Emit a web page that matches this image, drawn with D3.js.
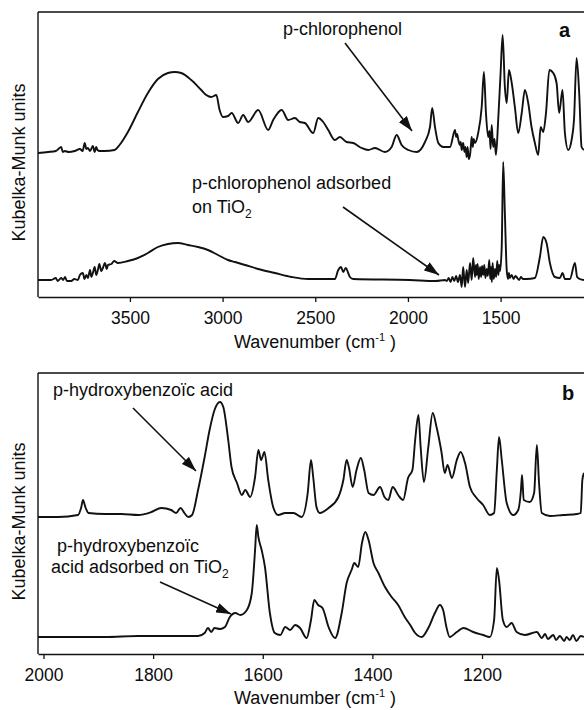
<!DOCTYPE html>
<html>
<head>
<meta charset="utf-8">
<script src="https://cdn.jsdelivr.net/npm/d3@7"></script>
<style>
  html, body { margin: 0; padding: 0; background: #fff; }
  svg text { font-family: "Liberation Sans", Arial, Helvetica, sans-serif; fill: #0d0d0d; }
</style>
</head>
<body>
<svg id="chart" width="584" height="710"></svg>
<script>
// ---------- DATA ----------
// Panel a: wavenumber (cm-1), Kubelka-Munk intensity (arbitrary units)
const aTicks = [3500, 3000, 2500, 2000, 1500];
const aChloroWn = [3996,3942,3900,3880,3871,3862,3852,3830,3798,3770,3755,3744,3735,3727,3715,3700,3690,3682,3675,3663,3637,3583,3556,3511,3457,3403,3349,3295,3259,3223,3169,3115,3088,3061,3034,3016,2998,2971,2951,2916,2889,2862,2808,2754,2727,2681,2646,2610,2583,2556,2511,2484,2457,2430,2394,2367,2331,2295,2250,2214,2178,2124,2088,2061,2034,1998,1953,1908,1881,1869,1854,1836,1809,1773,1746,1740,1735,1728,1720,1715,1710,1702,1695,1690,1683,1678,1672,1665,1660,1656,1650,1645,1638,1621,1602,1590,1579,1567,1560,1554,1548,1540,1533,1525,1513,1500,1489,1477,1467,1455,1440,1423,1405,1386,1369,1351,1333,1315,1297,1284,1270,1255,1237,1216,1198,1184,1166,1153,1135,1117,1104,1090,1076,1063,1050];
const aChloroKM = [144,145,146,149,150,145,146,145,146,148,146,154,148,149,146,151,145,150,147,146,146,147,152,165,185,204,218,224,225,224,217,207,202,200,202,187,180,181,184,174,182,175,187,167,177,187,177,179,175,174,164,179,175,167,157,160,155,154,149,147,149,145,150,162,152,147,145,155,170,189,170,154,150,150,167,160,163,157,152,155,147,154,145,150,140,150,138,142,152,160,150,158,154,164,190,225,184,160,166,148,172,150,158,142,177,224,262,210,194,227,214,190,164,184,207,194,170,154,142,170,165,184,227,224,214,184,207,164,147,157,177,239,204,150,147];
const aAdsWn = [3996,3960,3925,3900,3890,3871,3860,3850,3840,3817,3800,3781,3770,3754,3745,3735,3727,3715,3708,3700,3690,3682,3673,3665,3655,3646,3635,3625,3619,3600,3585,3565,3511,3457,3403,3349,3295,3241,3187,3133,3079,3025,2971,2933,2879,2808,2718,2627,2538,2484,2394,2376,2361,2349,2336,2313,2295,1989,1850,1800,1790,1780,1770,1760,1750,1740,1730,1719,1710,1702,1692,1683,1675,1665,1656,1648,1638,1633,1629,1624,1618,1611,1605,1600,1594,1588,1582,1575,1569,1561,1556,1552,1547,1543,1537,1530,1524,1518,1512,1508,1503,1494,1486,1477,1467,1460,1455,1450,1440,1430,1420,1414,1400,1390,1380,1360,1315,1288,1270,1252,1234,1207,1180,1166,1153,1126,1099,1087,1072,1050];
const aAdsKM = [17,17,17,19,16,19,17,20,16,16,18,17,22,24,18,22,19,27,20,24,30,22,27,33,26,29,34,28,32,33,36,34,36,39,44,50,53,54,52,50,47,42,37,35,32,28,24,20,18,18,18,27,30,25,29,20,18,17,16,17,16,19,15,20,16,21,15,22,10,30,10,27,14,34,17,39,20,32,22,33,18,30,20,31,22,32,19,28,21,37,18,30,15,34,18,28,20,36,22,32,26,50,135,84,27,18,24,19,22,18,21,20,17,20,18,18,19,40,60,54,34,20,19,24,18,18,34,20,18,17];

// Panel b
const bTicks = [2000, 1800, 1600, 1400, 1200];
const bAcidWn = [2010,1973,1937,1931,1928,1923,1918,1888,1858,1827,1803,1785,1767,1758,1750,1743,1736,1729,1718,1706,1697,1688,1678,1672,1663,1657,1647,1638,1632,1623,1614,1608,1603,1597,1590,1581,1572,1559,1544,1529,1518,1512,1508,1502,1496,1480,1462,1453,1447,1443,1436,1429,1421,1415,1407,1398,1386,1378,1371,1363,1353,1344,1335,1327,1322,1316,1312,1306,1298,1290,1283,1274,1268,1263,1255,1246,1239,1231,1222,1210,1198,1186,1178,1173,1169,1164,1155,1143,1134,1129,1127,1124,1113,1105,1100,1096,1091,1076,1052,1027,1020,1017,1014];
const bAcidKM = [137,137,139,147,154,146,141,140,140,139,142,146,144,141,146,141,137,139,164,197,224,244,252,247,214,187,171,159,164,157,177,204,194,202,174,147,139,141,141,137,161,194,177,147,141,146,157,174,194,187,167,184,196,184,161,159,167,157,154,167,159,154,176,184,214,239,207,172,207,241,227,202,181,189,176,194,202,191,167,156,149,139,141,184,217,194,151,139,144,164,179,154,152,161,209,171,141,138,139,140,141,174,181];
const bAdsWn = [2010,1949,1888,1827,1767,1718,1706,1700,1694,1688,1678,1669,1660,1650,1641,1629,1620,1614,1611,1608,1602,1596,1587,1578,1568,1559,1550,1541,1532,1520,1512,1506,1499,1491,1480,1468,1456,1447,1438,1433,1426,1419,1413,1407,1398,1389,1377,1365,1353,1341,1331,1322,1310,1298,1286,1277,1271,1265,1259,1246,1234,1216,1198,1186,1178,1173,1169,1162,1155,1146,1137,1122,1100,1091,1085,1080,1070,1065,1058,1050,1046,1040,1034,1028,1020,1014];
const bAdsKM = [17,17,17,18,18,18,21,26,22,26,25,27,37,41,39,44,61,104,129,117,104,87,41,21,19,27,24,29,26,16,34,54,49,46,27,16,41,71,84,91,87,111,122,114,91,81,67,57,49,37,29,21,17,26,41,49,44,27,17,22,26,22,19,17,34,86,74,34,27,31,22,19,22,16,20,15,19,14,18,13,17,14,19,13,18,17];

const labels = {
  aTop: "p-chlorophenol",
  aBot1: "p-chlorophenol adsorbed",
  aBot2: "on TiO",
  bTop: "p-hydroxybenzoïc acid",
  bBot1: "p-hydroxybenzoïc",
  bBot2: "acid adsorbed on TiO",
  yTitle: "Kubelka-Munk units"
};

// ---------- DRAW ----------
const svg = d3.select("#chart");
const W = 584;
const FS = 17.5;   // tick labels
const FL = 18;     // titles and annotations

const defs = svg.append("defs");
defs.append("marker")
  .attr("id", "arrow")
  .attr("viewBox", "0 0 15 10")
  .attr("refX", 15).attr("refY", 5)
  .attr("markerWidth", 15).attr("markerHeight", 10)
  .attr("markerUnits", "userSpaceOnUse")
  .attr("orient", "auto")
  .append("path").attr("d", "M0,0 L15,5 L0,10 Z").attr("fill", "#111");

function panel(cfg) {
  const g = svg.append("g");
  const x = d3.scaleLinear().domain(cfg.xDomain).range([38, W]);
  const y = d3.scaleLinear().domain([0, cfg.yMax]).range([cfg.bottom, cfg.top]);

  const clipId = "clip" + cfg.id;
  defs.append("clipPath").attr("id", clipId)
    .append("rect").attr("x", 38).attr("y", cfg.top).attr("width", W - 38).attr("height", cfg.bottom - cfg.top);

  // frame
  g.append("line").attr("x1", 38).attr("x2", W).attr("y1", cfg.top).attr("y2", cfg.top)
    .attr("stroke", "#111").attr("stroke-width", 1.4);
  g.append("line").attr("x1", 38).attr("x2", 38).attr("y1", cfg.top).attr("y2", cfg.bottom)
    .attr("stroke", "#111").attr("stroke-width", 1.4);

  // x axis
  const ax = g.append("g").attr("transform", `translate(0,${cfg.bottom})`)
    .call(d3.axisBottom(x).tickValues(cfg.ticks).tickSize(5).tickSizeOuter(0).tickPadding(10).tickFormat(d3.format("d")));
  ax.select(".domain").attr("stroke", "#111").attr("stroke-width", 1.4);
  ax.selectAll(".tick line").attr("stroke", "#111").attr("stroke-width", 1.3);
  ax.selectAll(".tick text").attr("font-size", FS).style("font-family", '"Liberation Sans", Arial, sans-serif').attr("fill", "#0d0d0d");

  // x title
  const t = g.append("text").attr("x", 315).attr("y", cfg.titleY).attr("text-anchor", "middle").attr("font-size", FL);
  t.append("tspan").text("Wavenumber (cm");
  t.append("tspan").attr("font-size", 11).attr("dy", -7).text("-1");
  t.append("tspan").attr("dy", 7).text(" )");

  // y title
  g.append("text").attr("transform", `translate(25,${(cfg.top + cfg.bottom) / 2 + 8}) rotate(-90)`)
    .attr("text-anchor", "middle").attr("font-size", FL).text(labels.yTitle);

  // lines
  const line = d3.line().x(d => x(d[0])).y(d => y(d[1])).curve(d3.curveMonotoneX);
  const plot = g.append("g").attr("clip-path", `url(#${clipId})`);
  cfg.series.forEach(s => {
    plot.append("path").datum(d3.zip(s.wn, s.km))
      .attr("d", line).attr("fill", "none").attr("stroke", "#111")
      .attr("stroke-width", 1.9).attr("stroke-linejoin", "round");
  });

  // panel letter
  g.append("text").attr("x", cfg.letterX).attr("y", cfg.letterY).attr("font-size", 20)
    .attr("font-weight", "bold").text(cfg.letter);
  return g;
}

panel({
  id: "a", xDomain: [3996, 1050], yMax: 285, top: 12, bottom: 297,
  ticks: aTicks, titleY: 348, letter: "a", letterX: 559, letterY: 37,
  series: [{ wn: aChloroWn, km: aChloroKM }, { wn: aAdsWn, km: aAdsKM }]
});
panel({
  id: "b", xDomain: [2010, 1014], yMax: 281, top: 373, bottom: 654,
  ticks: bTicks, titleY: 704, letter: "b", letterX: 562, letterY: 400,
  series: [{ wn: bAcidWn, km: bAcidKM }, { wn: bAdsWn, km: bAdsKM }]
});

// annotations
function txt(x, yy, s, sub) {
  const t = svg.append("text").attr("x", x).attr("y", yy).attr("font-size", FL);
  t.append("tspan").text(s);
  if (sub) t.append("tspan").attr("font-size", 12).attr("dy", 5).text(sub);
}
function arrow(x1, y1, x2, y2) {
  svg.append("line").attr("x1", x1).attr("y1", y1).attr("x2", x2).attr("y2", y2)
    .attr("stroke", "#111").attr("stroke-width", 1.6).attr("marker-end", "url(#arrow)");
}
txt(283, 35, labels.aTop);
arrow(345, 43, 412, 131);
txt(192, 189, labels.aBot1);
txt(192, 213, labels.aBot2, "2");
arrow(343, 207, 439, 275);

txt(53, 396, labels.bTop);
arrow(133, 408, 196, 471);
txt(57, 552, labels.bBot1);
txt(51, 573, labels.bBot2, "2");
arrow(160, 582, 231, 614);
</script>
</body>
</html>
